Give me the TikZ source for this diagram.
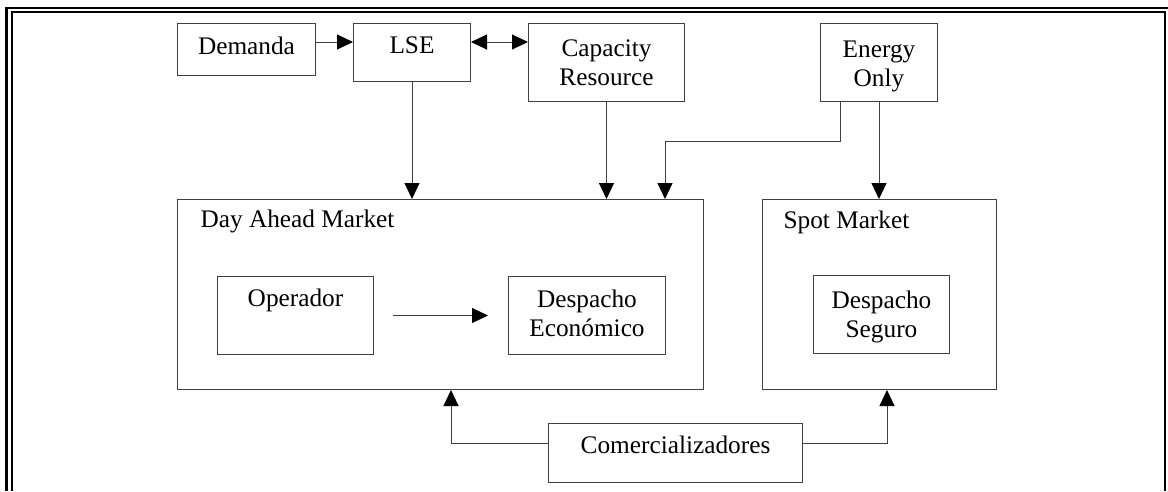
\documentclass[tikz,border=0pt]{standalone}
\usepackage{fontspec}
\setmainfont{Liberation Serif}
\usetikzlibrary{arrows.meta}

\definecolor{linegray}{RGB}{64,64,64}
\tikzset{
  box/.style={draw=linegray, line width=1pt, inner sep=0pt, anchor=north west, align=center, text height=30pt},
  conn/.style={draw=linegray, line width=1pt},
}

\begin{document}
\begin{tikzpicture}[x=1pt, y=-1pt, font=\fontsize{25.3}{29}\selectfont, >={Triangle[length=16pt,width=15pt,color=black]}]

    \useasboundingbox (0,0) rectangle (1168,491);

    \draw[line width=2.4pt] (6.5,491) -- (6.5,8) -- (1168,8);
    \draw[line width=2pt] (12,491) -- (12,12) -- (1164.5,12) -- (1164.5,491);

    \node[box, minimum width=138pt, minimum height=52pt, text width=138pt, text depth=21pt, text height=31pt] (dem) at (177,23) {Demanda};
    \node[box, minimum width=117pt, minimum height=58pt, text width=117pt, text depth=28pt] (lse) at (353,23) {LSE};
    \node[box, minimum width=156pt, minimum height=78pt, text width=156pt, text height=33pt, text depth=45pt] (cap) at (528,23) {Capacity\\Resource};
    \node[box, minimum width=117pt, minimum height=78pt, text width=117pt, text height=34pt, text depth=44pt] (eo) at (820,23) {Energy\\Only};

    \node[box, minimum width=526pt, minimum height=190pt] (dam) at (177,199) {};
    \node[box, minimum width=234pt, minimum height=190pt] (spot) at (762,199) {};
    \node[anchor=base west] (damlbl) at ([xshift=20pt,yshift=-28pt]dam.north west) {Day Ahead Market};
    \node[anchor=base west] (spotlbl) at ([xshift=18pt,yshift=-29pt]spot.north west) {Spot Market};

    \node[box, minimum width=156pt, minimum height=78pt, text width=156pt, text depth=48pt] (op) at (217,276) {Operador};
    \node[box, minimum width=157pt, minimum height=78pt, text width=157pt, text height=31pt, text depth=47pt] (ded) at (508,276) {Despacho\\Económico};
    \node[box, minimum width=136pt, minimum height=78pt, text width=136pt, text height=33pt, text depth=45pt] (dsg) at (813,275) {Despacho\\Seguro};

    \node[box, minimum width=254pt, minimum height=59pt, text width=254pt, text depth=29pt] (com) at (548,423) {Comercializadores};

    \draw[conn, ->] ([yshift=-19pt]dem.north east) -- ([yshift=-19pt]lse.north west);
    \draw[conn, <->] ([yshift=-19pt]lse.north east) -- ([yshift=-19pt]cap.north west);
    \draw[conn, ->] (lse.south) -- (lse.south |- dam.north);
    \draw[conn, ->] (cap.south) -- (cap.south |- dam.north);
    \draw[conn, ->] ([xshift=20pt]eo.south west) -- ++(0,39) -| ([xshift=-39pt]dam.north east);
    \draw[conn, ->] (eo.south) -- (eo.south |- spot.north);
    \draw[conn, ->] ([xshift=19pt]op.east) -- ([xshift=-20pt]ded.west);
    \draw[conn, ->] ([yshift=-20pt]com.north west) -| ([xshift=274pt]dam.south west);
    \draw[conn, ->] ([yshift=-20pt]com.north east) -| ([xshift=125pt]spot.south west);

\end{tikzpicture}
\end{document}
